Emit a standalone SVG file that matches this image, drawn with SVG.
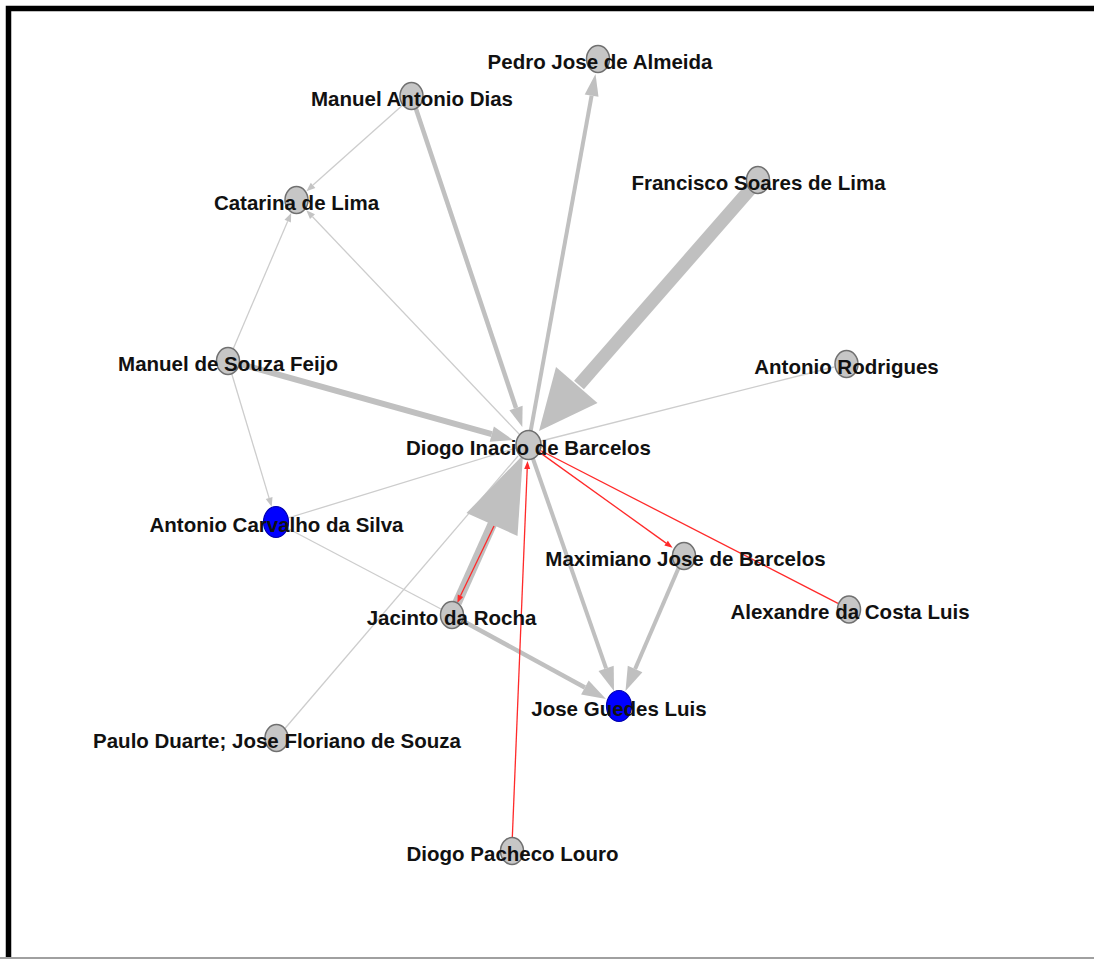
<svg xmlns="http://www.w3.org/2000/svg" width="1094" height="959" viewBox="0 0 1094 959">
<style>
.g{stroke:#c0c0c0;fill:none;stroke-linecap:butt}
.t{stroke:#cdcdcd;stroke-width:1.3;fill:none}
.ah{fill:#c0c0c0}
.ta{fill:#c4c4c4}
.r{stroke:#ff2a2a;stroke-width:1.3;fill:none}
.ra{fill:#ff2a2a}
.n{fill:#c6c6c6;stroke:#707070;stroke-width:1.5}
.b{fill:#0000ff;stroke:#0000b0;stroke-width:1.2}
text{font-family:"Liberation Sans",Arial,sans-serif;font-weight:bold;font-size:20.5px;fill:#111;text-anchor:middle}
</style>
<rect width="1094" height="959" fill="#fff"/>
<path d="M8.5,959 V8.5 H1094" fill="none" stroke="#000" stroke-width="5.5"/>
<line x1="0" y1="958" x2="1094" y2="958" stroke="#a0a0a0" stroke-width="2"/>
<g id="connectors">
<line class="t" x1="405" y1="103" x2="313" y2="185"/>
<polygon class="ta" points="306.4,191.3 310.8,182.7 315.4,187.9"/>
<line class="t" x1="520" y1="435" x2="312.5" y2="216.7"/>
<polygon class="ta" points="306.3,210.2 315,214.3 310,219.1"/>
<line class="t" x1="232.7" y1="350" x2="287.7" y2="221.2"/>
<polygon class="ta" points="291.2,212.9 290.9,222.6 284.5,219.8"/>
<line class="t" x1="231.5" y1="373" x2="269.1" y2="498.1"/>
<polygon class="ta" points="271.7,506.7 265.7,499.1 272.5,497.1"/>
<line class="t" x1="288" y1="518" x2="516" y2="448"/>
<line class="t" x1="287" y1="528" x2="441" y2="609"/>
<line class="t" x1="284.5" y1="729" x2="518" y2="456"/>
<line class="t" x1="834" y1="367" x2="541" y2="441"/>
<line class="g" stroke-width="4.5" x1="415.5" y1="107.5" x2="516" y2="408"/>
<polygon class="ah" points="522.3,427 509.4,410.2 522.6,405.8"/>
<line class="g" stroke-width="4" x1="530.5" y1="432" x2="591.6" y2="95.6"/>
<polygon class="ah" points="595.5,74 598.5,96.8 584.7,94.4"/>
<line class="g" stroke-width="6" x1="240" y1="364" x2="491.8" y2="434.1"/>
<polygon class="ah" points="513,440 489.7,441.8 493.9,426.4"/>
<line class="g" stroke-width="13" x1="753" y1="186" x2="579" y2="385"/>
<polygon class="ah" points="539,431 556,367 597.5,403"/>
<line class="g" stroke-width="9.5" x1="457" y1="603" x2="492.5" y2="523.6"/>
<line class="g" stroke-width="4" x1="532" y1="456" x2="606.1" y2="668.3"/>
<polygon class="ah" points="614,691 598.5,670.9 613.7,665.7"/>
<line class="g" stroke-width="4" x1="679" y1="567" x2="635.1" y2="669"/>
<polygon class="ah" points="625.5,691 627.8,665.8 642.4,672.2"/>
<line class="g" stroke-width="4.5" x1="463" y1="621" x2="584.9" y2="687.5"/>
<polygon class="ah" points="606,699 581.1,694.5 588.7,680.5"/>
<line class="r" x1="494" y1="526" x2="460.5" y2="595.8"/>
<polygon class="ra" points="457.3,603.1 457.8,594.6 463.2,597"/>
<line class="r" x1="512.3" y1="838" x2="527.2" y2="469"/>
<polygon class="ra" points="527.5,461 530.2,469.1 524.2,468.9"/>
<line class="r" x1="538.6" y1="451.6" x2="666.1" y2="543.1"/>
<polygon class="ra" points="672.6,547.8 664.3,545.5 667.9,540.7"/>
<line class="r" x1="539.6" y1="450" x2="838" y2="603.3"/>
<polygon class="ah" points="523,455 517.5,536 466.5,513"/>
</g>
<g id="n-pedro"><ellipse class="n" cx="598" cy="59" rx="11.5" ry="13.5"/><text x="600" y="69">Pedro Jose de Almeida</text></g>
<g id="n-manuel-antonio"><ellipse class="n" cx="411.5" cy="96" rx="11.5" ry="13.5"/><text x="412" y="106">Manuel Antonio Dias</text></g>
<g id="n-catarina"><ellipse class="n" cx="296.5" cy="200" rx="11.5" ry="13.5"/><text x="296.5" y="210">Catarina de Lima</text></g>
<g id="n-francisco"><ellipse class="n" cx="758" cy="180" rx="11.5" ry="13.5"/><text x="758.5" y="190">Francisco Soares de Lima</text></g>
<g id="n-feijo"><ellipse class="n" cx="228" cy="361" rx="11.5" ry="13.5"/><text x="228" y="371">Manuel de Souza Feijo</text></g>
<g id="n-rodrigues"><ellipse class="n" cx="846.5" cy="364" rx="11.5" ry="13.5"/><text x="846.5" y="374">Antonio Rodrigues</text></g>
<g id="n-diogo-inacio"><ellipse class="n" cx="528.5" cy="445" rx="12.5" ry="14.5"/><text x="528.5" y="455">Diogo Inacio de Barcelos</text></g>
<g id="n-carvalho"><ellipse class="b" cx="276" cy="522" rx="12.5" ry="15.5"/><text x="276.5" y="532">Antonio Carvalho da Silva</text></g>
<g id="n-maximiano"><ellipse class="n" cx="684" cy="556" rx="11.5" ry="13.5"/><text x="685.5" y="566">Maximiano Jose de Barcelos</text></g>
<g id="n-alexandre"><ellipse class="n" cx="849" cy="609.5" rx="11.5" ry="13.5"/><text x="850" y="619">Alexandre da Costa Luis</text></g>
<g id="n-jacinto"><ellipse class="n" cx="452" cy="615" rx="11.5" ry="13.5"/><text x="451.5" y="625">Jacinto da Rocha</text></g>
<g id="n-jose-guedes"><ellipse class="b" cx="619" cy="706" rx="12.5" ry="15.5"/><text x="619" y="715.5">Jose Guedes Luis</text></g>
<g id="n-paulo"><ellipse class="n" cx="276.5" cy="738" rx="11.5" ry="13.5"/><text x="277" y="748">Paulo Duarte; Jose Floriano de Souza</text></g>
<g id="n-pacheco"><ellipse class="n" cx="512" cy="851" rx="11.5" ry="13.5"/><text x="512.5" y="861">Diogo Pacheco Louro</text></g>
</svg>
